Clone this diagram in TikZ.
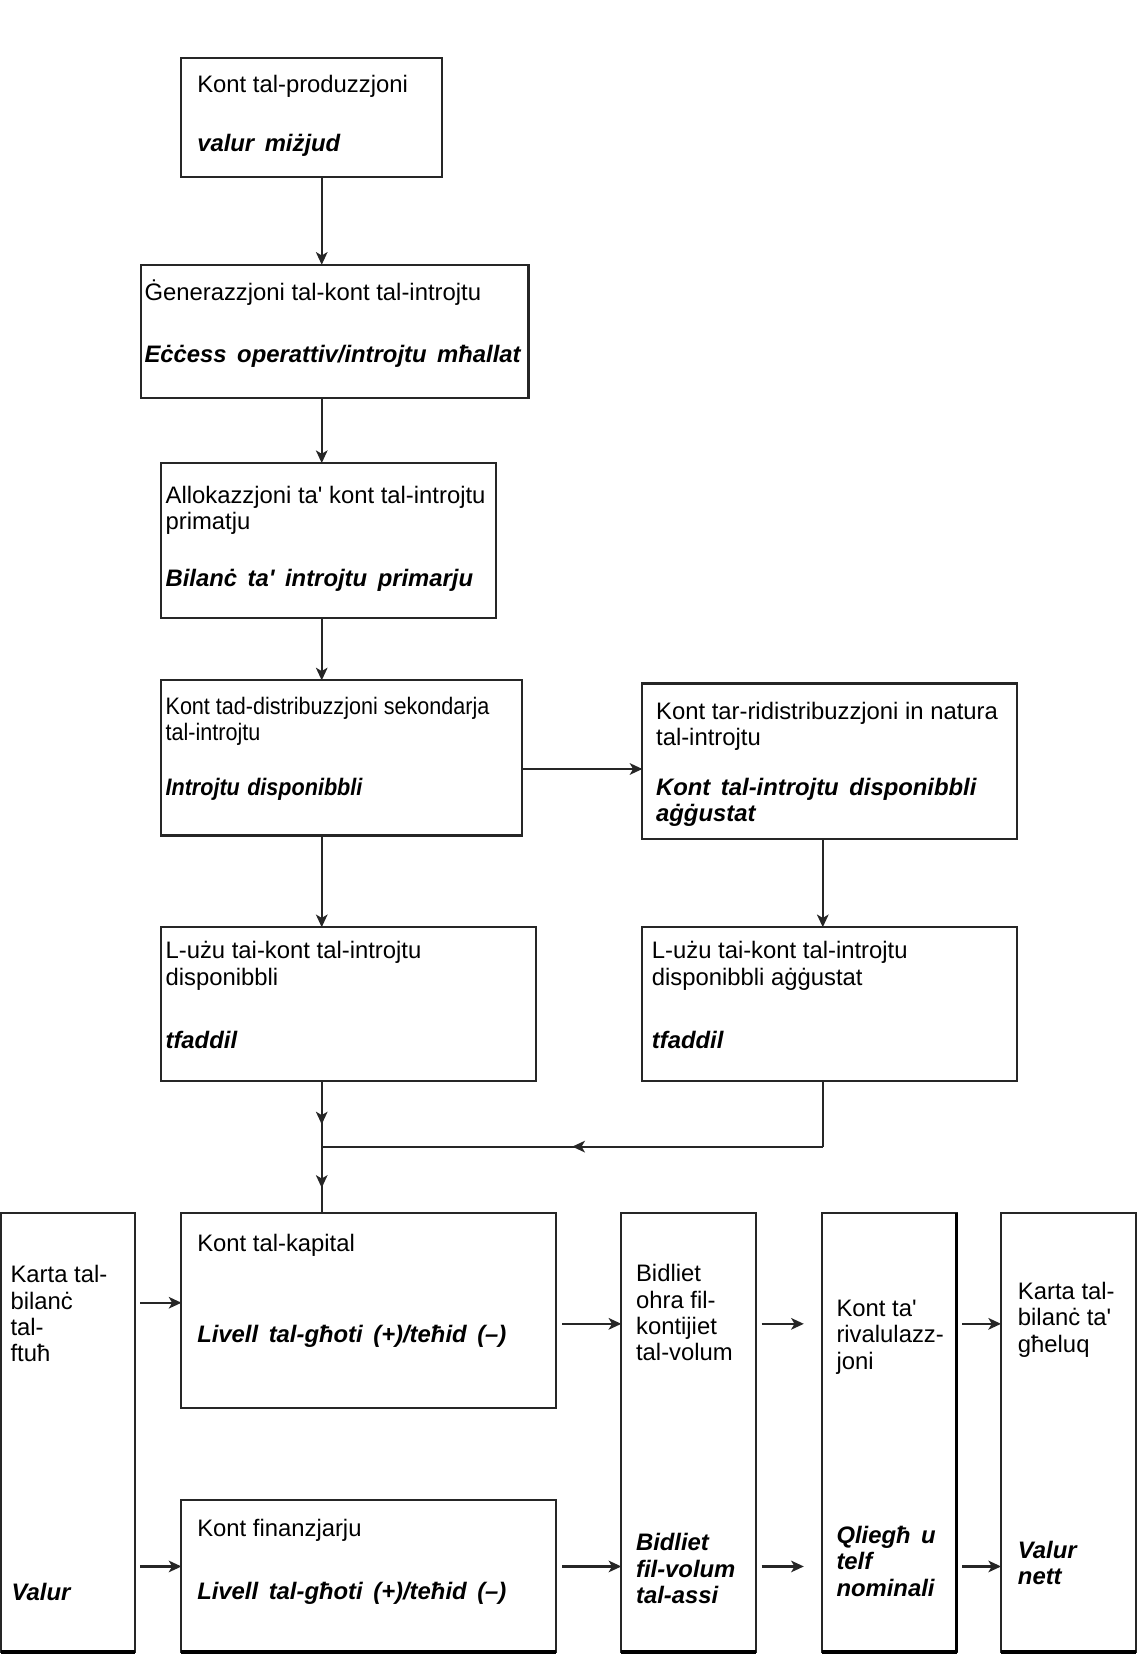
\documentclass[tikz,border=0pt]{standalone}
\usepackage{fontspec}
\setmainfont{Liberation Sans}[Ligatures=TeXOff]
\newfontfamily\condf{Liberation Sans}[Ligatures=TeXOff,FakeStretch=0.905]
\usetikzlibrary{arrows.meta,fit,decorations.markings}
\newcommand{\mlines}[1]{\vtop{\baselineskip=12.5pt\lineskiplimit=-20pt\lineskip=0pt #1}}
\newcommand{\bisp}{\spaceskip 5pt plus 1pt minus 0.5pt\relax}
\tikzset{
  box/.style={draw=black!85, line width=1pt, inner sep=0pt, outer sep=0pt},
  txt/.style={inner sep=0pt, outer sep=0pt, anchor=base west},
  bi/.style={txt, font={\fontsize{11.3}{12.5}\selectfont\bfseries\itshape\bisp}},
  tip/.tip={Stealth[length=6pt,width=5.5pt,inset=1.6pt]},
  arr/.style={draw=black!85, line width=1pt, -tip},
  ln/.style={draw=black!85, line width=1pt},
  midarr/.style={ln, postaction={decorate}, decoration={markings, mark=at position #1 with {\arrow{tip}}}},
  thickbot/.style={draw=black, line width=1.6pt}
}
\begin{document}
\begin{tikzpicture}[x=0.5pt, y=-0.5pt, font=\fontsize{11.3}{12.5}\selectfont]
\useasboundingbox (0,0) rectangle (1079,1568);
% helper coordinates
\coordinate (spine) at (305,0);
\coordinate (rspine) at (780,0);
\coordinate (ry) at (0,729);
\coordinate (jr) at (780,1087);
\coordinate (jl) at (305,1087);
\coordinate (u1) at (0,1235);
\coordinate (u2) at (0,1255);
\coordinate (lw) at (0,1485);

% boxes
\node[box, fit={(172,55) (419,168)}] (b1) {};
\node[box, fit={(134,251) (501,377)}] (b2) {};
\node[box, fit={(153,439) (470,586)}] (b3) {};
\node[box, fit={(153,645) (495,792)}] (b4) {};
\node[box, fit={(609,648) (964,795)}] (b5) {};
\node[box, fit={(153,879) (508,1025)}] (b6) {};
\node[box, fit={(609,879) (964,1025)}] (b7) {};
\node[box, fit={(1,1150) (128,1566)}] (b8) {};
\node[box, fit={(172,1150) (527,1335)}] (b9) {};
\node[box, fit={(172,1422) (527,1566)}] (b10) {};
\node[box, fit={(589,1150) (717,1566)}] (b11) {};
\node[box, fit={(779,1150) (907,1566)}] (b12) {};
\node[box, fit={(949,1150) (1077,1566)}] (b13) {};
\foreach \b in {b8,b10,b11,b12,b13}{
  \draw[thickbot] (\b.south west) -- (\b.south east);
}
\draw[draw=black, line width=1.3pt] (b12.north east) -- (b12.south east);

% texts
\node[txt] (t1a) at (187,88) {Kont tal-produzzjoni};
\node[bi] (t1b) at (187,144) {valur miżjud};
\node[txt] (t2a) at (137,285) {Ġenerazzjoni tal-kont tal-introjtu};
\node[bi] (t2b) at (137,344) {Eċċess operattiv/introjtu mħallat};
\node[txt] (t3a) at (157,477) {\mlines{\hbox{Allokazzjoni ta' kont tal-introjtu}\hbox{primatju}}};
\node[bi] (t3b) at (157,556) {Bilanċ ta' introjtu primarju};
\node[txt] (t4a) at (157,677) {\condf\mlines{\hbox{Kont tad-distribuzzjoni sekondarja}\hbox{tal-introjtu}}};
\node[bi] (t4b) at (157,754) {\condf\bfseries\itshape\spaceskip 3.5pt plus 1pt\relax Introjtu disponibbli};
\node[txt] (t5a) at (622,682) {\mlines{\hbox{Kont tar-ridistribuzzjoni in natura}\hbox{tal-introjtu}}};
\node[bi] (t5b) at (622,754) {\mlines{\hbox{Kont tal-introjtu disponibbli}\hbox{aġġustat}}};
\node[txt] (t6a) at (157,909) {\mlines{\hbox{L-użu tai-kont tal-introjtu}\hbox{disponibbli}}};
\node[bi] (t6b) at (157,994) {tfaddil};
\node[txt] (t7a) at (618,909) {\mlines{\hbox{L-użu tai-kont tal-introjtu}\hbox{disponibbli aġġustat}}};
\node[bi] (t7b) at (618,994) {tfaddil};
\node[txt] (t8a) at (10,1216) {\mlines{\hbox{Karta tal-}\hbox{bilanċ}\hbox{tal-}\hbox{ftuħ}}};
\node[bi] (t8b) at (11,1517) {Valur};
\node[txt] (t9a) at (187,1186) {Kont tal-kapital};
\node[bi] (t9b) at (187,1273) {Livell tal-għoti (+)/teħid (–)};
\node[txt] (t10a) at (187,1457) {Kont finanzjarju};
\node[bi] (t10b) at (187,1516) {Livell tal-għoti (+)/teħid (–)};
\node[txt] (t11a) at (603,1215) {\mlines{\hbox{Bidliet}\hbox{ohra fil-}\hbox{kontijiet}\hbox{tal-volum}}};
\node[bi] (t11b) at (603,1470) {\mlines{\hbox{Bidliet}\hbox{fil-volum}\hbox{tal-assi}}};
\node[txt] (t12a) at (793,1248) {\mlines{\hbox{Kont ta'}\hbox{rivalulazz-}\hbox{joni}}};
\node[bi] (t12b) at (793,1463) {\mlines{\hbox{Qliegħ u}\hbox{telf}\hbox{nominali}}};
\node[txt] (t13a) at (965,1232) {\mlines{\hbox{Karta tal-}\hbox{bilanċ ta'}\hbox{għeluq}}};
\node[bi] (t13b) at (965,1477) {\mlines{\hbox{Valur}\hbox{nett}}};

% connectors
\draw[arr] (b1.south -| spine) -- (b2.north -| spine);
\draw[arr] (b2.south -| spine) -- (b3.north -| spine);
\draw[arr] (b3.south -| spine) -- (b4.north -| spine);
\draw[arr] (b4.east |- ry) -- (b5.west |- ry);
\draw[arr] (b4.south -| spine) -- (b6.north -| spine);
\draw[arr] (b5.south -| rspine) -- (b7.north -| rspine);
\draw[midarr=0.66] (b6.south -| spine) -- (jl);
\draw[midarr=0.62] (jl) -- (b9.north -| spine);
\draw[ln] (b7.south -| rspine) -- (jr);
\draw[midarr=0.5] (jr) -- (jl);

\draw[arr] ([xshift=2.5pt]b8.east |- u1) -- (b9.west |- u1);
\draw[arr] ([xshift=2.5pt]b8.east |- lw) -- (b10.west |- lw);
\draw[arr] ([xshift=3pt]b9.east |- u2) -- (b11.west |- u2);
\draw[arr] ([xshift=3pt]b10.east |- lw) -- (b11.west |- lw);
\draw[arr] ([xshift=2.5pt]b11.east |- u2) -- ([xshift=-8.5pt]b12.west |- u2);
\draw[arr] ([xshift=2.5pt]b11.east |- lw) -- ([xshift=-8.5pt]b12.west |- lw);
\draw[arr] ([xshift=2.5pt]b12.east |- u2) -- (b13.west |- u2);
\draw[arr] ([xshift=2.5pt]b12.east |- lw) -- (b13.west |- lw);
\end{tikzpicture}
\end{document}
